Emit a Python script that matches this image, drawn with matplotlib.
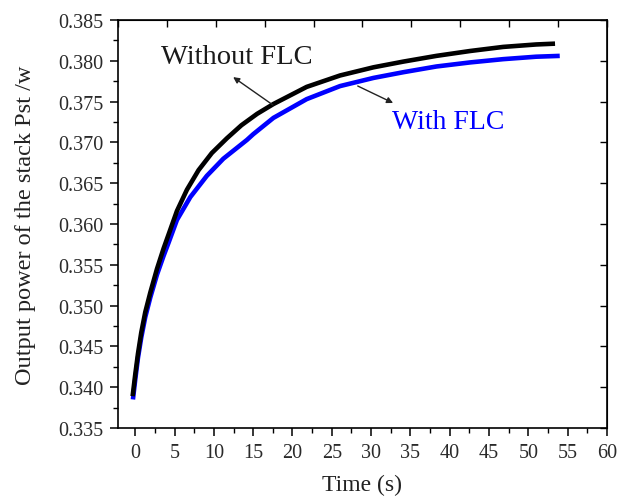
import numpy as np
import matplotlib.pyplot as plt

plt.rcParams['font.family'] = ['Liberation Serif', 'DejaVu Serif']

# Stack output power vs time, with and without FLC
t_without = [-0.34, 0.0, 0.34, 0.76, 1.27, 1.91, 2.76, 3.6, 4.23, 5.3, 6.57,
             8.05, 9.74, 11.65, 13.5, 15.5, 17.57, 21.8, 26.05, 30.3, 34.1,
             38.3, 42.6, 46.8, 51.0, 53.4]
p_without = [0.3389, 0.3416, 0.3441, 0.3467, 0.3492, 0.3516, 0.3545, 0.3570,
             0.3587, 0.3616, 0.3642, 0.3666, 0.3687, 0.3705, 0.3721, 0.3735,
             0.3747, 0.3768, 0.3782, 0.3792, 0.3799, 0.3806, 0.3812, 0.3817,
             0.3820, 0.3821]

t_with = [-0.3, 0.0, 0.34, 0.76, 1.27, 1.91, 2.76, 3.6, 4.23, 5.3, 7.0, 9.1,
          11.2, 14.2, 15.0, 17.57, 21.8, 26.05, 30.3, 34.1, 38.3, 42.6, 46.8,
          51.0, 54.0]
p_with = [0.3385, 0.3410, 0.3436, 0.3461, 0.3486, 0.3510, 0.3538, 0.3561,
          0.3577, 0.3605, 0.3633, 0.3659, 0.3680, 0.3703, 0.3710, 0.3730,
          0.3753, 0.3769, 0.3779, 0.3786, 0.3793, 0.3798, 0.3802, 0.3805,
          0.3806]

x_ticks = [0, 5, 10, 15, 20, 25, 30, 35, 40, 45, 50, 55, 60]
y_ticks = [0.335, 0.340, 0.345, 0.350, 0.355, 0.360, 0.365, 0.370,
           0.375, 0.380, 0.385]

fig = plt.figure(figsize=(6.26, 5.02), dpi=100)
ax = fig.add_axes([0.1885, 0.1454, 0.781, 0.8128])

ax.plot(t_with, p_with, color='#0000ff', lw=3.3, solid_joinstyle='round',
        solid_capstyle='butt')
ax.plot(t_without, p_without, color='black', lw=3.3, solid_joinstyle='round',
        solid_capstyle='butt')

xmin, xmax = -2.2, 60
ax.set_xlim(xmin, xmax)
ax.set_ylim(0.335, 0.385)
ax.set_xticks(x_ticks)
ax.set_yticks(y_ticks)
ax.set_yticklabels([f'{v:.3f}' for v in y_ticks])
ax.set_xticks(np.arange(2.5, 60, 5), minor=True)
ax.set_yticks(np.arange(0.3375, 0.385, 0.005), minor=True)

ax.tick_params(which='major', direction='out', length=6, width=1.1,
               labelsize=14.5, labelcolor='#2a2a2a', pad=4.5)
ax.tick_params(which='minor', direction='out', length=3.5, width=1.0)
ax.tick_params(top=False, right=False)
for sp in ax.spines.values():
    sp.set_linewidth(1.2)

# top axis: plain inward ticks, right axis: inward ticks at the major values
top = ax.secondary_xaxis('top')
top.set_xticks(np.linspace(xmin, xmax, 11))
top.tick_params(direction='in', length=5, width=1.0, labeltop=False)
right = ax.secondary_yaxis('right')
right.set_yticks(y_ticks)
right.tick_params(direction='in', length=5, width=1.0, labelright=False)

ax.set_xlabel('Time (s)', fontsize=17, color='#222222', labelpad=9)
ax.set_ylabel('Output power of the stack Pst /w', fontsize=17.5, color='#222222')
ax.yaxis.set_label_coords(-0.168, 0.5)

ax.annotate('', xy=(12.45, 0.3780), xytext=(17.5, 0.37459),
            arrowprops=dict(arrowstyle='-|>', color='#222222', lw=1.0,
                            mutation_scale=9, shrinkA=0, shrinkB=0))
ax.text(12.96, 0.3805, 'Without FLC', fontsize=20.5, color='#1a1a1a',
        ha='center', va='center')

ax.annotate('', xy=(32.8, 0.37483), xytext=(28.3, 0.37691),
            arrowprops=dict(arrowstyle='-|>', color='#222222', lw=1.0,
                            mutation_scale=9, shrinkA=0, shrinkB=0))
ax.text(39.8, 0.3725, 'With FLC', fontsize=20, color='#0000ff',
        ha='center', va='center')

fig.savefig('out.png', dpi=100)
